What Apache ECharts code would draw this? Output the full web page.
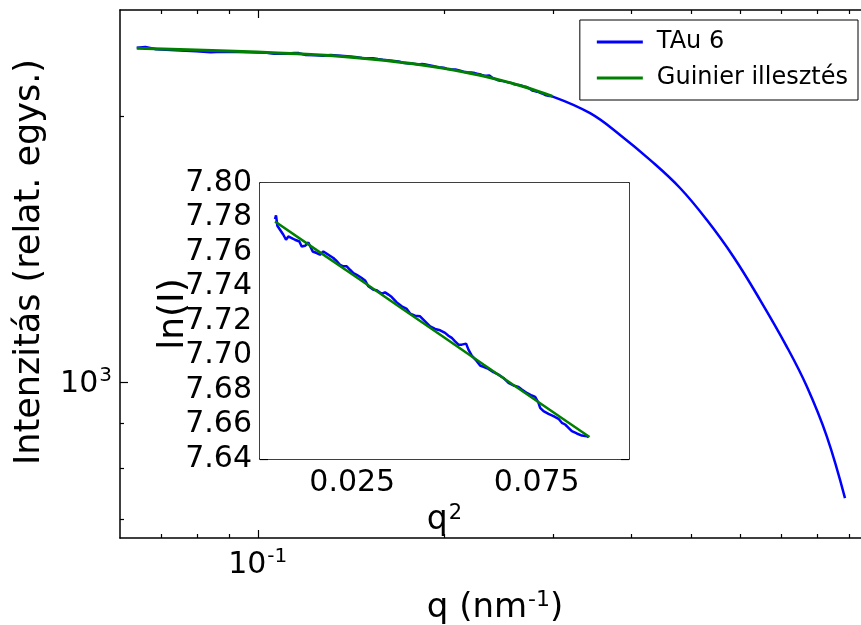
<!DOCTYPE html>
<html><head><meta charset="utf-8">
<script src="https://cdn.jsdelivr.net/npm/echarts@6.0.0/dist/echarts.min.js"></script>
<style>html,body{margin:0;padding:0;background:#fff}#c{width:861px;height:625px}</style>
</head><body><div id="c"></div>
<script>
// ---- data ----
// Inset: Guinier plot of the measured curve, q^2 (nm^-2) vs ln(I)
const insetQ2 = [0.00407,0.00434,0.00470,0.00542,0.00633,0.00705,0.00768,0.00859,0.00949,0.01067,
  0.01130,0.01220,0.01311,0.01356,0.01428,0.01537,0.01627,0.01717,0.01853,0.01988,
  0.02061,0.02169,0.02260,0.02350,0.02440,0.02531,0.02621,0.02757,0.02847,0.02937,
  0.03073,0.03163,0.03299,0.03389,0.03480,0.03570,0.03706,0.03841,0.03977,0.04067,
  0.04203,0.04338,0.04474,0.04610,0.04745,0.04881,0.05016,0.05107,0.05197,0.05287,
  0.05378,0.05468,0.05586,0.05649,0.05739,0.05875,0.05965,0.06056,0.06191,0.06327,
  0.06462,0.06598,0.06734,0.06869,0.07005,0.07095,0.07231,0.07366,0.07457,0.07547,
  0.07592,0.07683,0.07818,0.07954,0.08089,0.08180,0.08270,0.08361,0.08451,0.08586,
  0.08722,0.08858,0.08903];
const insetLnI = [7.7791,7.7812,7.7752,7.7729,7.7700,7.7671,7.7690,7.7681,7.7671,7.7661,
  7.7632,7.7636,7.7655,7.7652,7.7603,7.7594,7.7584,7.7603,7.7584,7.7565,
  7.7551,7.7526,7.7517,7.7517,7.7497,7.7478,7.7468,7.7449,7.7435,7.7401,
  7.7381,7.7378,7.7358,7.7366,7.7353,7.7339,7.7308,7.7285,7.7270,7.7243,
  7.7231,7.7227,7.7198,7.7169,7.7154,7.7146,7.7131,7.7115,7.7102,7.7082,
  7.7063,7.7063,7.7069,7.7034,7.6999,7.6967,7.6942,7.6934,7.6922,7.6903,
  7.6889,7.6870,7.6841,7.6826,7.6818,7.6803,7.6783,7.6768,7.6760,7.6725,
  7.6696,7.6677,7.6662,7.6648,7.6633,7.6610,7.6600,7.6581,7.6561,7.6548,
  7.6536,7.6532,7.6527];
// Guinier fit line (read along the green line of the inset)
const fitQ2  = [0.00407,0.01537,0.02666,0.03796,0.04925,0.06056,0.07186,0.08315,0.08930];
const fitLnI = [7.7777,7.7611,7.7446,7.7280,7.7114,7.6948,7.6783,7.6617,7.6527];
// Rest of the measured curve (main plot, beyond the Guinier range)
const tailQ = [0.3436,0.3841,0.4293,0.4799,0.5299,0.5848,0.6459,0.7132,0.7683,0.8277,0.8856];
const tailI = [2016,1905,1785,1659,1527,1388,1240,1098,990,869,740];
// axes
const seriesNames = ['TAu 6','Guinier illesztés'];
const xRange = [0.05995, 0.9718];
const yRange = [667, 2637];
const xMajor = [0.1];
const xMinor = [0.07,0.08,0.09,0.2,0.3,0.4,0.5,0.6,0.7,0.8,0.9];
const yMajor = [1000];
const yMinor = [700,800,900,2000];
const insetXRange = [0, 0.1];
const insetYRange = [7.64, 7.80];
const insetXTicks = [0.025, 0.075];
const insetYTicks = [7.64,7.66,7.68,7.70,7.72,7.74,7.76,7.78,7.80];

// ---- chart ----
const L = Math.log10;
const F = 'DejaVu Sans';
const BLACK = '#000';
const mainLow = insetQ2.map((v,i)=>[L(Math.sqrt(v)), insetLnI[i]*Math.LOG10E]);
const mainTail = [mainLow[mainLow.length-1]].concat(tailQ.map((q,i)=>[L(q), L(tailI[i])]));
const mainFit = fitQ2.map((v,i)=>[L(Math.sqrt(v)), fitLnI[i]*Math.LOG10E]);
const insetData = insetQ2.map((v,i)=>[v, insetLnI[i]]);
const insetFit = fitQ2.map((v,i)=>[v, fitLnI[i]]);

const supRich = (big, small, raise) => ({
  n:{fontSize:big, fontFamily:F, color:BLACK, verticalAlign:'bottom'},
  s:{fontSize:small, fontFamily:F, color:BLACK, verticalAlign:'bottom', padding:[0,0,raise,1]}
});
const pow10 = v => '{n|10}{s|' + Math.round(v) + '}';

function ax(o){
  const a = {
    type:'value', gridIndex:o.g, position:o.pos, min:o.min, max:o.max,
    splitLine:{show:false},
    axisLine:{show:!!o.line, onZero:false, lineStyle:{color:BLACK, width:1.5}},
    axisTick:{show:true, inside:true, length:o.len, customValues:o.ticks, lineStyle:{color:BLACK, width:1.2}},
    axisLabel:{show:false}
  };
  if (o.label) a.axisLabel = Object.assign({show:true, customValues:o.ticks}, o.label);
  if (o.name) Object.assign(a, {nameMoveOverlap:false}, o.name);
  return a;
}

const xMin = L(xRange[0]), xMax = L(xRange[1]);
const yMin = L(yRange[0]), yMax = L(yRange[1]);

const option = {
  animation:false,
  backgroundColor:'#fff',
  grid:[
    {left:120, top:10, width:750, height:528, show:false, outerBoundsMode:'none', containLabel:false},
    {left:260, top:183, width:369, height:276, show:true, backgroundColor:'#fff', borderWidth:0, z:3,
      outerBoundsMode:'none', containLabel:false}
  ],
  legend:{
    data:seriesNames, orient:'vertical', right:3, top:20,
    backgroundColor:'#fff', borderColor:BLACK, borderWidth:1,
    padding:[8,10,8,17], itemGap:8, itemWidth:46, itemHeight:3, icon:'rect',
    textStyle:{fontSize:24, fontFamily:F, color:BLACK, lineHeight:28, padding:[0,0,0,9]}
  },
  xAxis:[
    ax({g:0,pos:'bottom',min:xMin,max:xMax,line:true,len:8,ticks:xMajor.map(L),
      label:{margin:9, formatter:pow10, rich:supRich(30,20,13)},
      name:{name:'{n|q (nm}{s|-1}{n|)}', nameLocation:'middle', nameGap:51,
        nameTextStyle:{rich:supRich(34,22,14)}}}),
    ax({g:0,pos:'bottom',min:xMin,max:xMax,len:4,ticks:xMinor.map(L)}),
    ax({g:0,pos:'top',min:xMin,max:xMax,line:true,len:8,ticks:xMajor.map(L)}),
    ax({g:0,pos:'top',min:xMin,max:xMax,len:4,ticks:xMinor.map(L)}),
    ax({g:1,pos:'bottom',min:insetXRange[0],max:insetXRange[1],line:true,len:8,ticks:insetXTicks,
      label:{margin:9, fontSize:30, fontFamily:F, color:BLACK, formatter:v=>v.toFixed(3)},
      name:{name:'{n|q}{s|2}', nameLocation:'middle', nameGap:44,
        nameTextStyle:{rich:supRich(33,21,13)}}}),
    ax({g:1,pos:'top',min:insetXRange[0],max:insetXRange[1],line:true,len:8,ticks:insetXTicks})
  ],
  yAxis:[
    ax({g:0,pos:'left',min:yMin,max:yMax,line:true,len:8,ticks:yMajor.map(L),
      label:{margin:8, formatter:pow10, rich:supRich(30,20,13)},
      name:{name:'Intenzitás (relat. egys.)', nameLocation:'middle', nameGap:73,
        nameTextStyle:{fontSize:35, fontFamily:F, color:BLACK, padding:[0,0,0,24]}}}),
    ax({g:0,pos:'left',min:yMin,max:yMax,len:4,ticks:yMinor.map(L)}),
    ax({g:0,pos:'right',min:yMin,max:yMax,line:true,len:8,ticks:yMajor.map(L)}),
    ax({g:0,pos:'right',min:yMin,max:yMax,len:4,ticks:yMinor.map(L)}),
    ax({g:1,pos:'left',min:insetYRange[0],max:insetYRange[1],line:true,len:8,ticks:insetYTicks,
      label:{margin:8, fontSize:30, fontFamily:F, color:BLACK, formatter:v=>v.toFixed(2)},
      name:{name:'ln(I)', nameLocation:'middle', nameGap:68,
        nameTextStyle:{fontSize:36, fontFamily:F, color:BLACK, padding:[0,0,0,14]}}}),
    ax({g:1,pos:'right',min:insetYRange[0],max:insetYRange[1],line:true,len:8,ticks:insetYTicks})
  ],
  series:[
    {name:seriesNames[0], type:'line', xAxisIndex:0, yAxisIndex:0, data:mainLow, showSymbol:false,
      lineStyle:{color:'#0000ff', width:2.5}, itemStyle:{color:'#0000ff'}, z:2},
    {name:seriesNames[0], type:'line', xAxisIndex:0, yAxisIndex:0, data:mainTail, showSymbol:false, smooth:0.4,
      lineStyle:{color:'#0000ff', width:2.5}, itemStyle:{color:'#0000ff'}, z:2},
    {name:seriesNames[1], type:'line', xAxisIndex:0, yAxisIndex:0, data:mainFit, showSymbol:false, smooth:0.4,
      lineStyle:{color:'#008000', width:3}, itemStyle:{color:'#008000'}, z:3},
    {name:seriesNames[0], type:'line', xAxisIndex:4, yAxisIndex:4, data:insetData, showSymbol:false,
      lineStyle:{color:'#0000ff', width:2.5}, itemStyle:{color:'#0000ff'}, z:4},
    {name:seriesNames[1], type:'line', xAxisIndex:4, yAxisIndex:4, data:insetFit, showSymbol:false,
      lineStyle:{color:'#008000', width:2.5}, itemStyle:{color:'#008000'}, z:5}
  ]
};
const chart = echarts.init(document.getElementById('c'), null, {renderer:'canvas'});
chart.setOption(option);
</script></body></html>
